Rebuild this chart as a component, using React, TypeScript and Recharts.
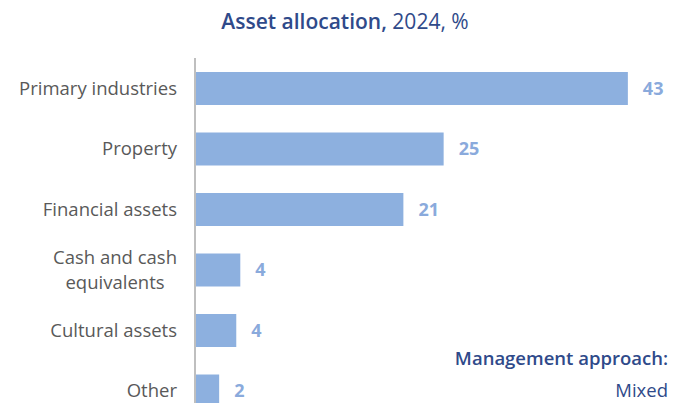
import React from "react";
import { BarChart, Bar, XAxis, YAxis, LabelList } from "recharts";

const categories = [
  "Primary industries",
  "Property",
  "Financial assets",
  "Cash and cash equivalents",
  "Cultural assets",
  "Other",
];
const values = [43.0, 24.7, 20.7, 4.5, 4.1, 2.4];
const valueLabels = ["43", "25", "21", "4", "4", "2"];
const tickLines: Record<string, string[]> = {
  "Cash and cash equivalents": ["Cash and cash", "equivalents"],
};

const data = categories.map((name, i) => ({
  name,
  value: values[i],
  label: valueLabels[i],
}));

const FONT = "'Open Sans', 'Noto Sans', sans-serif";
const BAR = "#8DB0DF";
const NAVY = "#2F4A8A";
const GREY = "#595959";
const TICK_SIZE = 18.5;

let canvasCtx: CanvasRenderingContext2D | null = null;
function measure(text: string, font: string): number {
  if (typeof document === "undefined") return text.length * 9;
  if (!canvasCtx) {
    const c = document.createElement("canvas");
    canvasCtx = c.getContext("2d");
  }
  if (!canvasCtx) return text.length * 9;
  canvasCtx.font = font;
  return canvasCtx.measureText(text).width;
}

const CategoryTick = (props: any) => {
  const { x, y, payload } = props;
  const name: string = payload.value;
  const lines = tickLines[name] || [name];
  const right = x - 10;
  if (lines.length === 1) {
    return (
      <text x={right} y={y} dy={6.5} textAnchor="end" fill={GREY} fontSize={TICK_SIZE} fontFamily={FONT}>
        {name}
      </text>
    );
  }
  const font = `${TICK_SIZE}px 'Open Sans'`;
  const widths = lines.map((l) => measure(l, font));
  const maxW = Math.max(...widths);
  const center = right - maxW / 2;
  const lh = 25;
  const start = -((lines.length - 1) * lh) / 2;
  return (
    <text x={center} y={y} textAnchor="middle" fill={GREY} fontSize={TICK_SIZE} fontFamily={FONT}>
      {lines.map((l, i) => (
        <tspan key={i} x={center} dy={i === 0 ? start + 6.5 : lh}>
          {l}
        </tspan>
      ))}
    </text>
  );
};

export default function App() {
  return (
    <div style={{ position: "absolute", left: 0, top: 0, width: 674, height: 403, overflow: "hidden", background: "#fff" }}>
      <BarChart
        width={674}
        height={440}
        data={data}
        layout="vertical"
        margin={{ top: 58, right: 26, bottom: 19, left: 0 }}
        barSize={33}
      >
        <XAxis type="number" domain={[0, 45]} hide />
        <YAxis
          type="category"
          dataKey="name"
          width={195}
          axisLine={{ stroke: "#BFBFBF", strokeWidth: 2 }}
          tickLine={false}
          tick={<CategoryTick />}
          interval={0}
        />
        <Bar dataKey="value" fill={BAR} isAnimationActive={false}>
          <LabelList
            dataKey="label"
            position="right"
            offset={15}
            fill="#8AAADC"
            fontSize={18}
            fontWeight={700}
            fontFamily={FONT}
          />
        </Bar>
      </BarChart>
      <svg width={674} height={403} style={{ position: "absolute", left: 0, top: 0, pointerEvents: "none" }}>
        <text x={345} y={29} textAnchor="middle" fill={NAVY} fontSize={21} fontFamily={FONT}>
          <tspan fontWeight={600}>Asset allocation,</tspan>
          <tspan> 2024, %</tspan>
        </text>
        <text x={668} y={365} textAnchor="end" fill={NAVY} fontSize={18.5} fontWeight={600} fontFamily={FONT}>
          Management approach:
        </text>
        <text x={668} y={397} textAnchor="end" fill={NAVY} fontSize={18.5} fontFamily={FONT}>
          Mixed
        </text>
      </svg>
    </div>
  );
}
